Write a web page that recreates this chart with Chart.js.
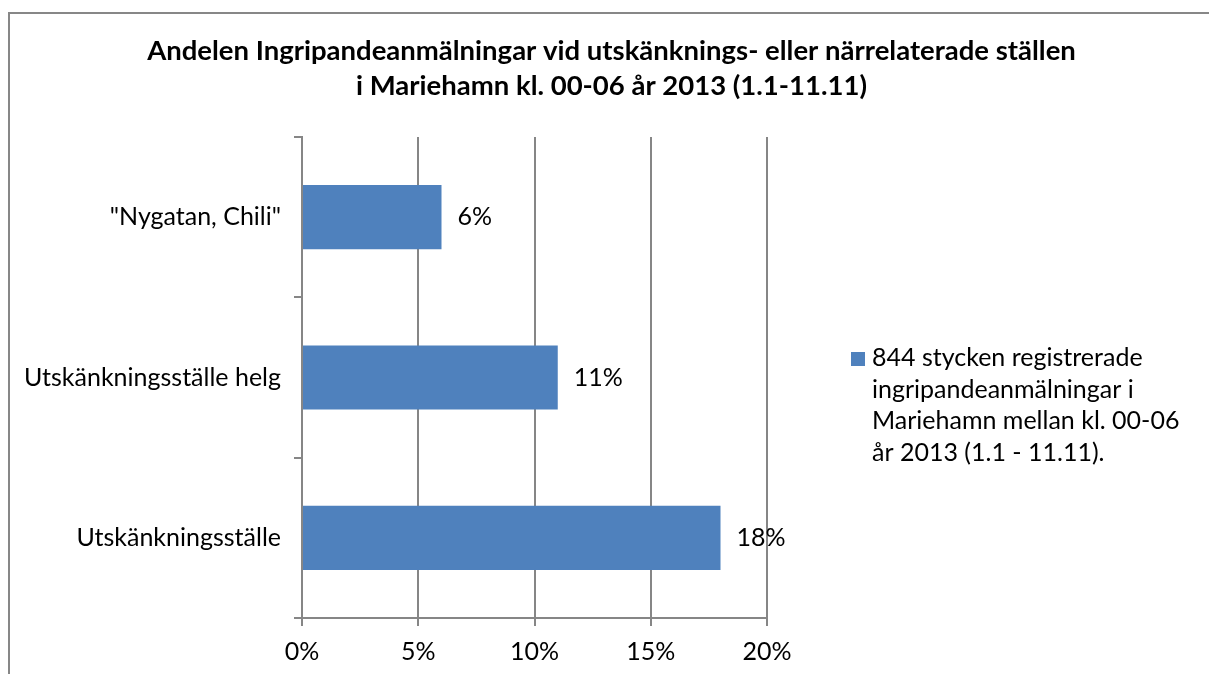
<!DOCTYPE html>
<html lang="sv">
<head>
<meta charset="utf-8">
<title>Andelen Ingripandeanmälningar</title>
<script src="https://cdn.jsdelivr.net/npm/chart.js@4.4.1/dist/chart.umd.min.js"></script>
<style>
  html, body { margin: 0; padding: 0; background: #fff; }
  #wrap { position: relative; width: 1209px; height: 674px; overflow: hidden; }
  #frame { position: absolute; left: 8px; top: 12px; width: 1400px; height: 900px;
           border-top: 2px solid #878787; border-left: 2px solid #878787; pointer-events: none; }
  canvas { display: block; }
</style>
</head>
<body>
<div id="wrap">
  <canvas id="chart" width="1209" height="674"></canvas>
  <div id="frame"></div>
</div>
<script>
// Andelen ingripandeanmälningar — horizontal bar chart, legend drawn on the right

const titleLines = [
  "Andelen Ingripandeanmälningar vid utskänknings- eller närrelaterade ställen",
  "i Mariehamn kl. 00-06 år 2013 (1.1-11.11)"
];
const categories  = ['"Nygatan, Chili"', "Utskänkningsställe helg", "Utskänkningsställe"];
const shares      = [6, 11, 18];          // percent
const xTicks      = [0, 5, 10, 15, 20];   // percent
const legendLines = [
  "844 stycken registrerade",
  "ingripandeanmälningar i",
  "Mariehamn mellan kl. 00-06",
  "år 2013 (1.1 - 11.11)."
];

const FONT       = "Lato, 'Open Sans', sans-serif";
const TEXT_SIZE  = 25;
const TITLE_SIZE = 27.5;
const BAR_BLUE   = "#4F81BD";
const LINE_GREY  = "#868686";

// ── Value labels at the end of each bar ─────────────────────
const valueLabels = {
  id: "valueLabels",
  afterDatasetsDraw(chart) {
    const ctx  = chart.ctx;
    const meta = chart.getDatasetMeta(0);
    ctx.save();
    ctx.font = TEXT_SIZE + "px " + FONT;
    ctx.fillStyle = "#000";
    ctx.textBaseline = "middle";
    meta.data.forEach((bar, i) => {
      ctx.fillText(shares[i] + "%", bar.x + 16, bar.y);
    });
    ctx.restore();
  }
};

// ── Legend (multi-line) to the right of the plot ────────────
const sideLegend = {
  id: "sideLegend",
  afterDraw(chart) {
    const ctx  = chart.ctx;
    const area = chart.chartArea;
    const ds   = chart.data.datasets[0];
    const x    = area.right + 84;
    const base = area.top + 229;
    ctx.save();
    ctx.fillStyle = ds.backgroundColor;
    ctx.fillRect(x, base - 14, 14, 14);
    ctx.font = TEXT_SIZE + "px " + FONT;
    ctx.fillStyle = "#000";
    ctx.textBaseline = "alphabetic";
    legendLines.forEach((line, i) => {
      ctx.fillText(line, x + 21, base + i * 31.7);
    });
    ctx.restore();
  }
};

new Chart(document.getElementById("chart").getContext("2d"), {
  type: "bar",
  data: {
    labels: categories,
    datasets: [{
      label:              legendLines.join(" "),
      data:               shares,
      backgroundColor:    BAR_BLUE,
      borderWidth:        0,
      barPercentage:      0.4,
      categoryPercentage: 1
    }]
  },
  options: {
    indexAxis:  "y",
    responsive: false,
    animation:  false,
    layout: { padding: { left: 14, right: 0, top: 0, bottom: 0 } },
    plugins: {
      legend: { display: false },
      title: {
        display: true,
        text:    titleLines,
        color:   "#000",
        font:    { family: FONT, size: TITLE_SIZE, weight: "bold", lineHeight: 35 / TITLE_SIZE },
        padding: { top: 34, bottom: 33 }
      }
    },
    scales: {
      x: {
        type: "linear",
        position: "bottom",
        min: xTicks[0],
        max: xTicks[xTicks.length - 1],
        afterBuildTicks(scale) { scale.ticks = xTicks.map(v => ({ value: v })); },
        afterFit(scale) { scale.height = 56; },
        grid:   { color: LINE_GREY, lineWidth: 2, tickLength: 8 },
        border: { color: LINE_GREY, width: 2 },
        ticks:  {
          color: "#000",
          padding: 11,
          font: { family: FONT, size: TEXT_SIZE },
          callback: v => v + "%"
        }
      },
      y: {
        type: "category",
        position: "left",
        afterFit(scale) { scale.width = 302 - 14; },
        grid:   { offset: true, drawOnChartArea: false, color: LINE_GREY, lineWidth: 2, tickLength: 8 },
        border: { color: LINE_GREY, width: 2 },
        ticks:  { color: "#000", padding: 13, font: { family: FONT, size: TEXT_SIZE } }
      },
      // empty axis that only reserves room for the legend
      legendSpace: {
        axis: "y",
        type: "linear",
        position: "right",
        afterFit(scale) { scale.width = 1209 - 767; },
        grid:   { display: false },
        border: { display: false },
        ticks:  { display: false }
      }
    }
  },
  plugins: [valueLabels, sideLegend]
});
</script>
</body>
</html>
